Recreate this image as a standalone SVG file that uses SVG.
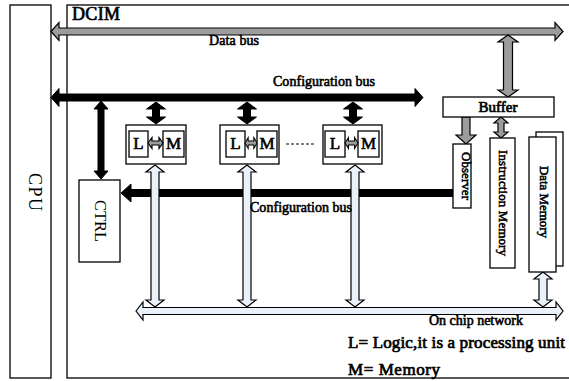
<svg xmlns="http://www.w3.org/2000/svg" width="569" height="381" viewBox="0 0 569 381">
<style>
.box{fill:#fff;stroke:#000;stroke-width:1.3}
.frame{fill:none;stroke:#000;stroke-width:1.3}
.gray{fill:#9c9c9c;stroke:#000;stroke-width:1.2}
.blk{fill:#000;stroke:#000;stroke-width:1}
.lite{fill:#eaf1fb;stroke:#000;stroke-width:1.2}
text{font-family:"Liberation Serif","Times New Roman",serif;fill:#000}
.b{stroke:#000;stroke-width:0.7}
.lbl{font-size:14px;stroke:#000;stroke-width:0.6}
.lm{font-size:17px;text-anchor:middle;stroke:#000;stroke-width:0.6}
.rot{font-size:13px;text-anchor:middle;stroke:#000;stroke-width:0.55}
</style>
<defs>
<path id="blkArrow" d="M0,0 L9.5,7 L3.5,7 L3.5,15 L9.5,15 L0,22 L-9.5,15 L-3.5,15 L-3.5,7 L-9.5,7 Z"/>
<path id="liteArrow" d="M0,0 L9,7 L4,7 L4,135 L9,135 L0,142 L-9,135 L-4,135 L-4,7 L-9,7 Z"/>
<path id="lmArrow" d="M0,0 L4,-5.5 L4,-2 L11,-2 L11,-5.5 L15,0 L11,5.5 L11,2 L4,2 L4,5.5 Z"/>
</defs>

<g id="cpu">
<rect class="frame" x="10" y="5" width="41" height="373"/>
<text transform="translate(28.5,192) rotate(90)" font-size="18" text-anchor="middle" textLength="38">CPU</text>
</g>
<g id="dcim">
<rect class="frame" x="67" y="5" width="506" height="373"/>
<text class="b" x="72" y="20" font-size="18" textLength="48">DCIM</text>
</g>

<g id="connectors">
<path class="gray" d="M51,31.5 L59,22.5 L59,28 L555,28 L555,22.5 L563,31.5 L555,40.5 L555,35 L59,35 L59,40.5 Z"/>
<path class="blk" d="M51,97.5 L59,88.5 L59,94 L415,94 L415,88.5 L423,97.5 L415,106.5 L415,101 L59,101 L59,106.5 Z"/>
<path class="blk" d="M101,101 L108,109 L104,109 L104,171 L108,171 L101,179 L94,171 L98,171 L98,109 L94,109 Z"/>
<use href="#blkArrow" class="blk" transform="translate(156,102)"/>
<use href="#blkArrow" class="blk" transform="translate(247,102)"/>
<use href="#blkArrow" class="blk" transform="translate(353,102)"/>
<path class="blk" d="M121,193 L131,184 L131,189.5 L453,189.5 L453,196.5 L131,196.5 L131,202 Z"/>
<use href="#liteArrow" class="lite" transform="translate(155,165)"/>
<use href="#liteArrow" class="lite" transform="translate(247,165)"/>
<use href="#liteArrow" class="lite" transform="translate(355,165)"/>
<path class="lite" d="M136,311 L143,302 L143,307.5 L556,307.5 L556,302 L563,311 L556,320 L556,314.5 L143,314.5 L143,320 Z"/>
<path class="gray" d="M508,35 L518,42 L512.5,42 L512.5,90 L518,90 L508,97 L498,90 L503.5,90 L503.5,42 L498,42 Z"/>
<path class="gray" d="M462,117 L470,117 L470,135 L476,135 L466,144 L456,135 L462,135 Z"/>
<path class="gray" d="M501,117 L508,123 L504,123 L504,132 L508,132 L501,138 L494,132 L498,132 L498,123 L494,123 Z"/>
<path class="lite" d="M543,272 L552,279 L547,279 L547,300 L552,300 L543,307 L534,300 L539,300 L539,279 L534,279 Z"/>
</g>

<g id="ctrl">
<rect class="box" x="79" y="180" width="41" height="82"/>
<text transform="translate(95,221) rotate(90)" font-size="16.5" text-anchor="middle" textLength="42">CTRL</text>
</g>

<g id="unit1">
<rect class="box" x="126" y="125" width="60" height="39"/>
<rect class="box" x="129" y="131" width="19" height="26"/>
<rect class="box" x="163" y="131" width="21" height="26"/>
<use href="#lmArrow" class="gray" transform="translate(148,143)"/>
<text class="lm" x="138.5" y="149">L</text>
<text class="lm" x="173.5" y="149">M</text>
</g>
<g id="unit2">
<rect class="box" x="220" y="125" width="59" height="39"/>
<rect class="box" x="226" y="131" width="19" height="26"/>
<rect class="box" x="257" y="131" width="20" height="26"/>
<use href="#lmArrow" class="gray" transform="translate(245,143) scale(0.8,1)"/>
<text class="lm" x="235.5" y="149">L</text>
<text class="lm" x="267" y="149">M</text>
</g>
<line x1="286" y1="144" x2="315" y2="144" stroke="#000" stroke-width="1.2" stroke-dasharray="3,2"/>
<g id="unit3">
<rect class="box" x="323" y="125" width="59" height="39"/>
<rect class="box" x="325" y="131" width="20" height="26"/>
<rect class="box" x="358" y="131" width="21" height="26"/>
<use href="#lmArrow" class="gray" transform="translate(345,143) scale(0.87,1)"/>
<text class="lm" x="335" y="149">L</text>
<text class="lm" x="368.5" y="149">M</text>
</g>

<g id="buffer">
<rect class="box" x="443" y="97" width="111" height="20"/>
<text class="b" x="498" y="112" font-size="15" text-anchor="middle" textLength="39">Buffer</text>
</g>
<g id="observer">
<rect class="box" x="453" y="144" width="18" height="64"/>
<text class="rot" transform="translate(461.5,176) rotate(90)" textLength="48">Observer</text>
</g>
<g id="instruction-memory">
<rect class="box" x="490" y="138" width="25" height="130"/>
<text class="rot" transform="translate(498.5,203) rotate(90)" textLength="106">Instruction Memory</text>
</g>
<g id="data-memory">
<rect class="box" x="536" y="132" width="27" height="134"/>
<rect class="box" x="529" y="137" width="27" height="135"/>
<text class="rot" transform="translate(540,202) rotate(90)" textLength="72">Data Memory</text>
</g>

<g id="labels">
<text class="lbl" x="209" y="45" textLength="50">Data bus</text>
<text class="lbl" x="273" y="86" textLength="102">Configuration bus</text>
<text class="lbl" x="250" y="212" textLength="102">Configuration bus</text>
<text class="lbl" x="429" y="325" textLength="94">On chip network</text>
<text class="b" x="348" y="348" font-size="17" textLength="217">L= Logic,it is a processing unit</text>
<text class="b" x="348" y="375" font-size="17" textLength="92">M= Memory</text>
</g>
</svg>
